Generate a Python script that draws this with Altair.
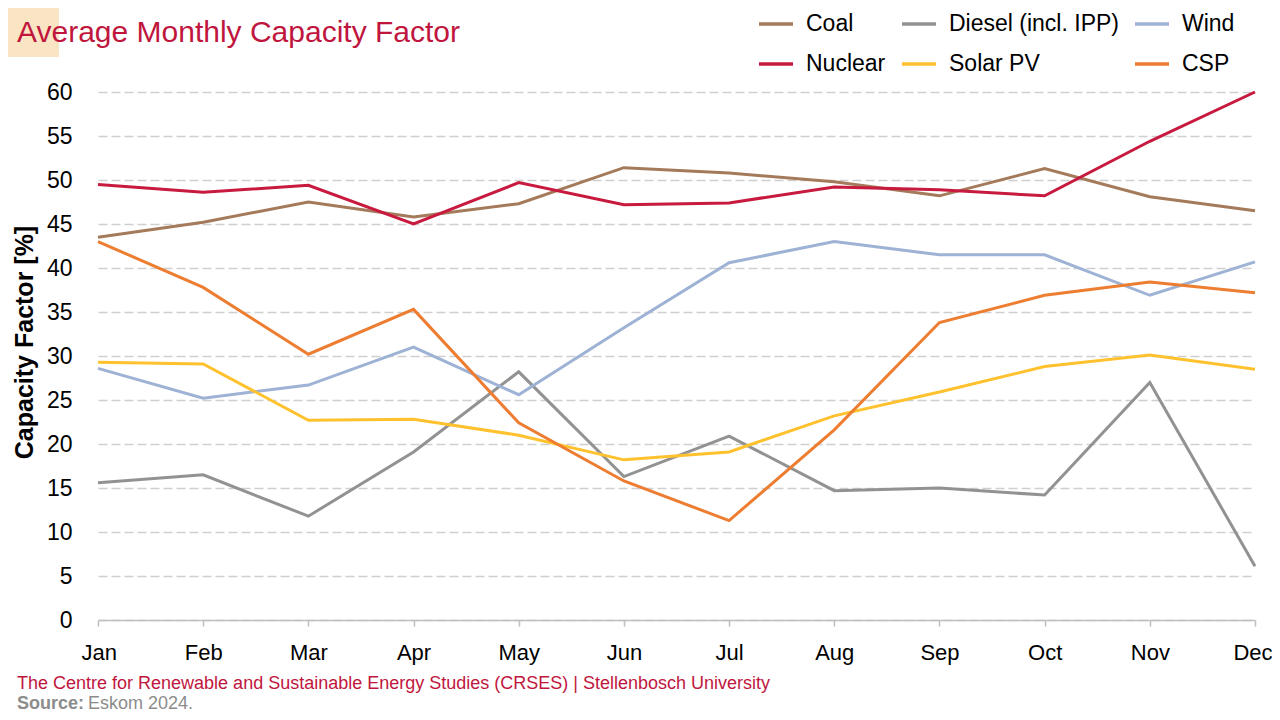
import altair as alt
import pandas as pd

months = ["Jan", "Feb", "Mar", "Apr", "May", "Jun", "Jul", "Aug", "Sep", "Oct", "Nov", "Dec"]
series_names = ["Coal", "Diesel (incl. IPP)", "Wind", "Nuclear", "Solar PV", "CSP"]
series_colors = ["#A47A5B", "#929292", "#9DB2D4", "#C8193F", "#FFC22E", "#ED7D31"]

coal = [43.5, 45.2, 47.5, 45.8, 47.3, 51.4, 50.8, 49.8, 48.2, 51.3, 48.1, 46.5]
diesel = [15.6, 16.5, 11.8, 19.1, 28.2, 16.3, 20.9, 14.7, 15.0, 14.2, 27.0, 6.1]
wind = [28.6, 25.2, 26.7, 31.0, 25.6, 33.2, 40.6, 43.0, 41.5, 41.5, 36.9, 40.7]
nuclear = [49.5, 48.6, 49.4, 45.0, 49.7, 47.2, 47.4, 49.2, 48.9, 48.2, 54.4, 60.0]
solar_pv = [29.3, 29.1, 22.7, 22.8, 21.0, 18.2, 19.1, 23.2, 25.9, 28.8, 30.1, 28.5]
csp = [43.0, 37.8, 30.2, 35.3, 22.4, 15.8, 11.3, 21.6, 33.8, 36.9, 38.4, 37.2]

y_ticks = [0, 5, 10, 15, 20, 25, 30, 35, 40, 45, 50, 55, 60]

title_text = "Average Monthly Capacity Factor"
footer_text = "The Centre for Renewable and Sustainable Energy Studies (CRSES) | Stellenbosch University"
source_label = "Source:"
source_text = "Eskom 2024."

values = {
    "Coal": coal,
    "Diesel (incl. IPP)": diesel,
    "Wind": wind,
    "Nuclear": nuclear,
    "Solar PV": solar_pv,
    "CSP": csp,
}
rows = []
for name in series_names:
    for m, v in zip(months, values[name]):
        rows.append({"Month": m, "Series": name, "Value": v})
df = pd.DataFrame(rows)

FONT = "Liberation Sans"
RED = "#C0163E"
W, H = 1157, 528

lines = alt.Chart(df).mark_line(strokeWidth=3).encode(
    x=alt.X(
        "Month:N",
        sort=months,
        scale=alt.Scale(type="point", padding=0),
        axis=alt.Axis(
            title=None,
            labelAngle=0,
            labelFont=FONT,
            labelFontSize=22,
            labelColor="#000000",
            labelPadding=16,
            labelFlush=True,
            labelFlushOffset=17,
            tickSize=6,
            tickColor="#BFBFBF",
            tickWidth=1.5,
            domainColor="#BFBFBF",
            domainWidth=1.5,
            grid=False,
        ),
    ),
    y=alt.Y(
        "Value:Q",
        scale=alt.Scale(domain=[0, 60], nice=False, zero=True),
        axis=alt.Axis(
            title="Capacity Factor [%]",
            values=y_ticks,
            titleFont=FONT,
            titleFontSize=25,
            titleFontWeight="bold",
            titleColor="#000000",
            titlePadding=9,
            titleY=250,
            labelFont=FONT,
            labelFontSize=23,
            labelColor="#000000",
            labelPadding=26,
            ticks=False,
            domain=False,
            grid=True,
            gridColor="#CFCFCF",
            gridDash=[9, 4],
            gridWidth=1.3,
        ),
    ),
    color=alt.Color(
        "Series:N",
        scale=alt.Scale(domain=series_names, range=series_colors),
        legend=alt.Legend(
            title=None,
            orient="none",
            legendX=659,
            legendY=-87,
            direction="horizontal",
            columns=3,
            symbolType="stroke",
            symbolSize=1156,
            symbolStrokeWidth=3.5,
            labelFont=FONT,
            labelFontSize=23,
            labelColor="#000000",
            labelOffset=11,
            labelLimit=400,
            columnPadding=9,
            rowPadding=9,
            padding=0,
        ),
    ),
)

highlight = alt.Chart(pd.DataFrame({"a": [0]})).mark_rect(color="#F9E5C3").encode(
    x=alt.value(-98), x2=alt.value(-39), y=alt.value(-92), y2=alt.value(-35)
)

title = alt.Chart(pd.DataFrame({"t": [title_text]})).mark_text(
    align="left", baseline="alphabetic", font=FONT, fontSize=30, color=RED
).encode(text="t:N", x=alt.value(-81), y=alt.value(-50))

footer = alt.Chart(pd.DataFrame({"t": [footer_text]})).mark_text(
    align="left", baseline="alphabetic", font=FONT, fontSize=18, color=RED
).encode(text="t:N", x=alt.value(-81), y=alt.value(597))

source1 = alt.Chart(pd.DataFrame({"t": [source_label]})).mark_text(
    align="left", baseline="alphabetic", font=FONT, fontSize=18, fontWeight="bold", color="#8C8C8C"
).encode(text="t:N", x=alt.value(-81), y=alt.value(617))

source2 = alt.Chart(pd.DataFrame({"t": [source_text]})).mark_text(
    align="left", baseline="alphabetic", font=FONT, fontSize=18, color="#8C8C8C"
).encode(text="t:N", x=alt.value(-10), y=alt.value(617))

chart = alt.layer(highlight, lines, title, footer, source1, source2).properties(
    width=W,
    height=H,
    autosize=alt.AutoSizeParams(type="none"),
    padding={"left": 90, "top": 84, "right": 17, "bottom": 92},
).configure_view(stroke=None)

chart.save("out.html", embed_options={"renderer": "svg", "actions": False})
